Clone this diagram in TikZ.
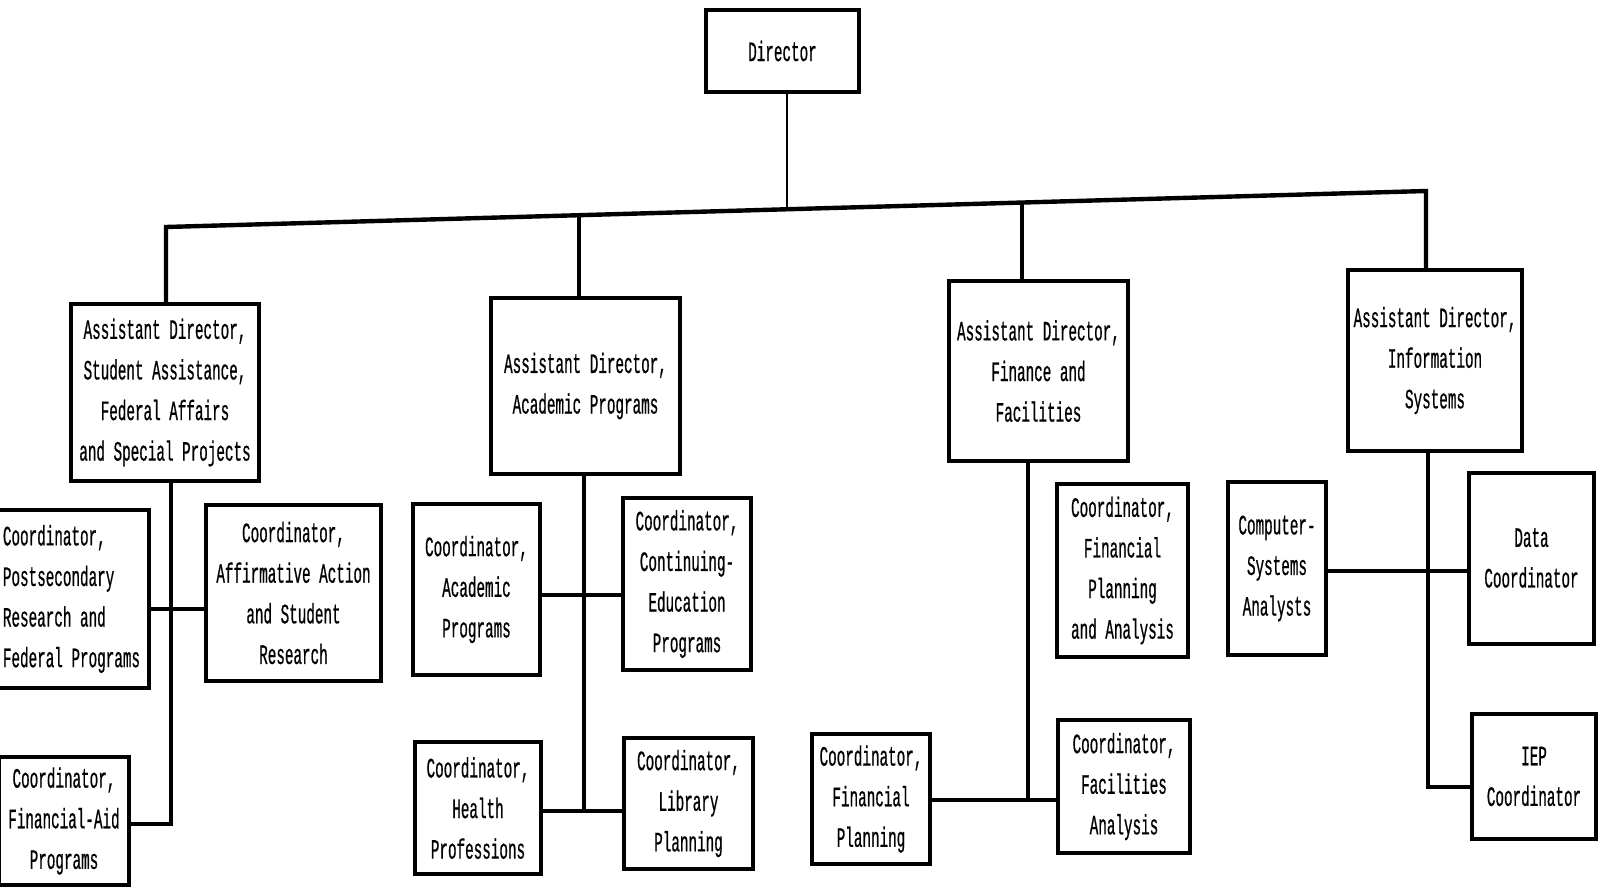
\documentclass[tikz,border=0pt]{standalone}
\usepackage{fontspec}
\newfontfamily\orgfont{Liberation Mono}[FakeStretch=0.51,FakeBold=0.6]
\begin{document}
\begin{tikzpicture}[x=0.5pt,y=-0.5pt,
  box/.style={draw, line width=2pt, inner sep=0pt, align=center,
    font=\orgfont\fontsize{14}{20.3}\selectfont},
  link/.style={line width=1.6pt},
  bus/.style={line width=2.2pt, line join=miter}]
\useasboundingbox (0,0) rectangle (1599,888);
\fill[white] (0,0) rectangle (1599,888);

% Director
\node[box, minimum width=76.5pt, minimum height=41pt] (dir) at (782.5,51) {Director};

% Assistant directors
\node[box, minimum width=94pt, minimum height=88.5pt] (a1) at (165,392.5)
  {Assistant Director,\\Student Assistance,\\Federal Affairs\\and Special Projects};
\node[box, minimum width=94.5pt, minimum height=88pt] (a2) at (585.5,386)
  {Assistant Director,\\Academic Programs};
\node[box, minimum width=89.5pt, minimum height=90pt] (a3) at (1038.5,371)
  {Assistant Director,\\Finance and\\Facilities};
\node[box, minimum width=87pt, minimum height=90.5pt] (a4) at (1435,360.5)
  {Assistant Director,\\Information\\Systems};

% Student assistance group
\node[box, align=left, minimum width=77.5pt, minimum height=89pt] (post) at (71.5,599)
  {Coordinator,\\Postsecondary\\Research and\\Federal Programs};
\node[box, minimum width=87.5pt, minimum height=88pt] (affirm) at (293.5,593)
  {Coordinator,\\Affirmative Action\\and Student\\Research};
\node[box, minimum width=65pt, minimum height=64pt] (finaid) at (64,821)
  {Coordinator,\\Financial-Aid\\Programs};

% Academic programs group
\node[box, minimum width=63.5pt, minimum height=85.5pt] (acad) at (476.5,589.5)
  {Coordinator,\\Academic\\Programs};
\node[box, minimum width=64pt, minimum height=86pt] (conted) at (687,584)
  {Coordinator,\\Continuing-\\Education\\Programs};
\node[box, minimum width=63pt, minimum height=66pt] (health) at (478,808)
  {Coordinator,\\Health\\Professions};
\node[box, minimum width=64.5pt, minimum height=65.5pt] (library) at (688.5,803.5)
  {Coordinator,\\Library\\Planning};

% Finance and facilities group
\node[box, minimum width=65.5pt, minimum height=86.5pt] (fpa) at (1122.5,570.5)
  {Coordinator,\\Financial\\Planning\\and Analysis};
\node[box, minimum width=59pt, minimum height=65pt] (finplan) at (871,799)
  {Coordinator,\\Financial\\Planning};
\node[box, minimum width=66pt, minimum height=66.5pt] (facil) at (1124,786.5)
  {Coordinator,\\Facilities\\Analysis};

% Information systems group
\node[box, minimum width=49pt, minimum height=86.5pt] (csa) at (1277,568.5)
  {Computer-\\Systems\\Analysts};
\node[box, minimum width=62.5pt, minimum height=85.5pt] (data) at (1531.5,558)
  {Data\\Coordinator};
\node[box, minimum width=62pt, minimum height=62.5pt] (iep) at (1534,776.5)
  {IEP\\Coordinator};

% Junction points on the main bus
\coordinate (j1) at (166,227);
\coordinate (j2) at (579,215.2);
\coordinate (jd) at (787,209.3);
\coordinate (j3) at (1022,202.5);
\coordinate (j4) at (1426,191);

% Main bus and drops
\draw[line width=1.2pt] (dir.south -| jd) -- (jd);
\draw[bus] (a1.north -| j1) -- (j1) -- (j4) -- (a4.north -| j4);
\draw[link] (j2) -- (a2.north -| j2);
\draw[link] (j3) -- (a3.north -| j3);

% Student assistance connectors
\coordinate (t1) at (171,824);
\coordinate (h1) at (171,609);
\draw[link] (a1.south -| t1) -- (t1) -- (finaid.east |- t1);
\draw[link] (post.east |- h1) -- (affirm.west |- h1);

% Academic programs connectors
\coordinate (t2) at (584,811);
\coordinate (h2) at (584,595);
\draw[link] (a2.south -| t2) -- (t2);
\draw[link] (acad.east |- h2) -- (conted.west |- h2);
\draw[link] (health.east |- t2) -- (library.west |- t2);

% Finance and facilities connectors
\coordinate (t3) at (1028,800);
\draw[link] (a3.south -| t3) -- (t3);
\draw[link] (finplan.east |- t3) -- (facil.west |- t3);

% Information systems connectors
\coordinate (t4) at (1428,787);
\coordinate (h4) at (1428,571);
\draw[link] (a4.south -| t4) -- (t4) -- (iep.west |- t4);
\draw[link] (csa.east |- h4) -- (data.west |- h4);
\end{tikzpicture}
\end{document}
